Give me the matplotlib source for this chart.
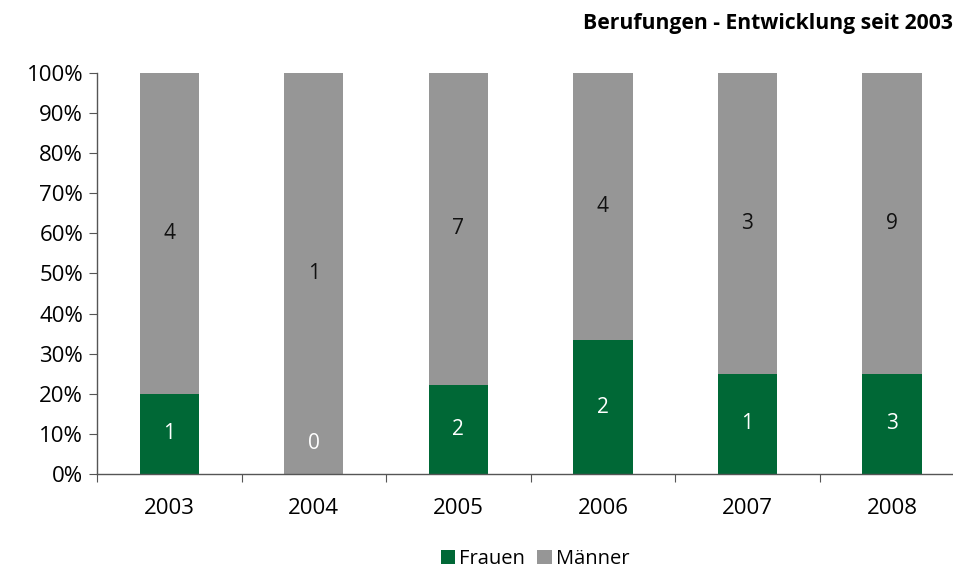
import numpy as np
import matplotlib
matplotlib.use("Agg")
import matplotlib.pyplot as plt
from matplotlib.ticker import PercentFormatter

years = ["2003", "2004", "2005", "2006", "2007", "2008"]
frauen = np.array([1, 0, 2, 2, 1, 3])
maenner = np.array([4, 1, 7, 4, 3, 9])

green = "#006836"
gray = "#969696"

plt.rcParams['font.family'] = ['Open Sans', 'DejaVu Sans']

total = frauen + maenner
p_f = frauen / total * 100
p_m = maenner / total * 100
x = np.arange(len(years))

fig = plt.figure(figsize=(9.54, 5.68), dpi=100)
ax = fig.add_axes([0.1017, 0.1655, 0.909, 0.706])

ax.bar(x, p_f, width=0.41, color=green, label="Frauen", zorder=2)
ax.bar(x, p_m, width=0.41, bottom=p_f, color=gray, label="Männer", zorder=2)

# Werte in die Segmente schreiben
for i in range(len(years)):
    if frauen[i] > 0:
        ax.text(x[i], p_f[i] / 2, str(frauen[i]), ha="center", va="center",
                color="white", fontsize=15)
    else:
        ax.annotate(str(frauen[i]), xy=(x[i], 0), xytext=(0, 22),
                    textcoords="offset points", ha="center", va="center",
                    color="white", fontsize=15)
    ax.text(x[i], p_f[i] + p_m[i] / 2, str(maenner[i]), ha="center",
            va="center", color="#111111", fontsize=15)

ax.set_xlim(-0.5, len(years) - 0.5)
ax.set_ylim(0, 100)
ax.set_yticks(np.arange(0, 101, 10))
ax.yaxis.set_major_formatter(PercentFormatter(decimals=0))

ax.set_xticks(np.arange(-0.5, len(years), 1))
ax.set_xticklabels([])
ax.set_xticks(x, minor=True)
ax.set_xticklabels(years, minor=True)
ax.tick_params(axis="x", which="minor", length=0, pad=17, labelsize=16)
ax.tick_params(axis="x", which="major", length=6, color="#555555")
ax.tick_params(axis="y", length=6, color="#555555", labelsize=16, pad=4)

for s in ["top", "right"]:
    ax.spines[s].set_visible(False)
for s in ["left", "bottom"]:
    ax.spines[s].set_color("#555555")
    ax.spines[s].set_linewidth(1.0)

fig.text(0.999, 0.958, "Berufungen - Entwicklung seit 2003", ha="right",
         va="center", fontsize=15.2, fontweight="bold")

fig.legend(loc="center", bbox_to_anchor=(0.561, 0.016), ncol=2, frameon=False,
           fontsize=14.5, handlelength=0.7, handleheight=0.7,
           handletextpad=0.2, columnspacing=0.6, borderpad=0)

fig.savefig("out.png", dpi=100)
